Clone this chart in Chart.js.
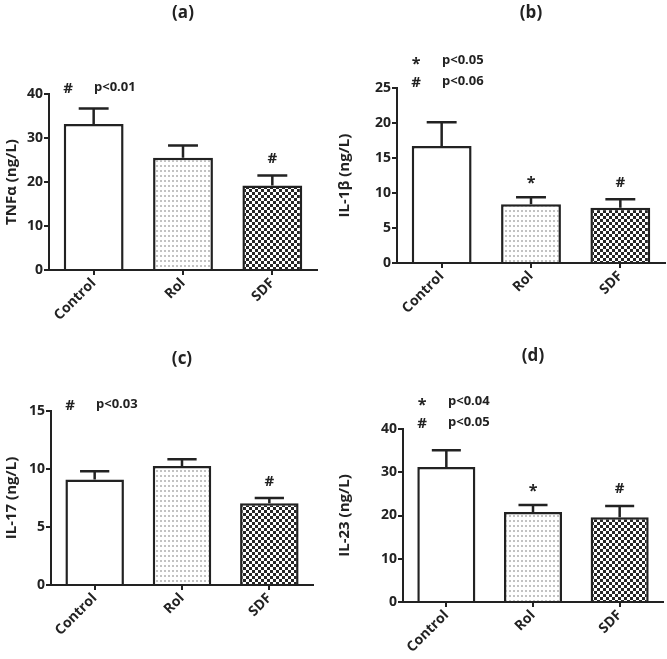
<!DOCTYPE html>
<html lang="en">
<head>
<meta charset="UTF-8">
<title>Cytokine levels</title>
<script src="https://cdn.jsdelivr.net/npm/chart.js"></script>
<style>
  body { margin: 0; background: #fff; }
  #wrap { position: relative; width: 667px; height: 659px; }
  .panel { position: absolute; }
</style>
</head>
<body>
<div id="wrap">
  <div class="panel" style="left:0;top:0;width:333px;height:330px"><canvas id="cA"></canvas></div>
  <div class="panel" style="left:333px;top:0;width:334px;height:330px"><canvas id="cB"></canvas></div>
  <div class="panel" style="left:0;top:330px;width:333px;height:329px"><canvas id="cC"></canvas></div>
  <div class="panel" style="left:333px;top:330px;width:334px;height:329px"><canvas id="cD"></canvas></div>
</div>
<script>
// groups and values (mean, SEM)
const groups = ["Control", "Rol", "SDF"];

const tnfMean = [33.2, 25.5, 19.2];
const tnfSem = [3.5, 2.8, 2.3];
const tnfTicks = [0, 10, 20, 30, 40];
const tnfMarks = ["", "", "#"];
const tnfNotes = [["#", "p<0.01"]];

const il1bMean = [16.7, 8.4, 7.9];
const il1bSem = [3.4, 1.0, 1.2];
const il1bTicks = [0, 5, 10, 15, 20, 25];
const il1bMarks = ["", "*", "#"];
const il1bNotes = [["*", "p<0.05"], ["#", "p<0.06"]];

const il17Mean = [9.1, 10.25, 7.05];
const il17Sem = [0.7, 0.6, 0.45];
const il17Ticks = [0, 5, 10, 15];
const il17Marks = ["", "", "#"];
const il17Notes = [["#", "p<0.03"]];

const il23Mean = [31.2, 20.8, 19.6];
const il23Sem = [3.9, 1.6, 2.6];
const il23Ticks = [0, 10, 20, 30, 40];
const il23Marks = ["", "*", "#"];
const il23Notes = [["*", "p<0.04"], ["#", "p<0.05"]];

const ink = "#222";
const fam = "'Open Sans', 'DejaVu Sans', sans-serif";

function makePattern(w, h, draw) {
    const c = document.createElement("canvas");
    c.width = w; c.height = h;
    const g = c.getContext("2d");
    g.fillStyle = "#fff";
    g.fillRect(0, 0, w, h);
    draw(g);
    return g.createPattern(c, "repeat");
}

const dots = makePattern(4, 5, g => {
    g.fillStyle = "#c2c2c2";
    g.fillRect(0, 0, 2, 2);
});
const checks = makePattern(6, 6, g => {
    g.fillStyle = "#262626";
    g.fillRect(0, 0, 3, 3);
    g.fillRect(3, 3, 3, 3);
});

function drawSym(ctx, s, x, cy) {
    // centre the glyph itself on cy
    ctx.textAlign = "center";
    ctx.textBaseline = "alphabetic";
    if (s === "*") {
        ctx.font = "bold 16px " + fam;
        ctx.fillText(s, x, cy + 9);
    } else {
        ctx.font = "bold 15px " + fam;
        ctx.fillText(s, x, cy + 5.5);
    }
}

function extras(p) {
    return {
        id: "extras",
        afterDatasetsDraw(chart) {
            const ctx = chart.ctx;
            const ys = chart.scales.y;
            const area = chart.chartArea;
            const bars = chart.getDatasetMeta(0).data;
            ctx.save();
            ctx.strokeStyle = ink;
            ctx.fillStyle = ink;
            ctx.lineWidth = 2.5;
            bars.forEach((bar, i) => {
                const top = ys.getPixelForValue(p.mean[i] + p.sem[i]);
                const half = bar.width / 4;
                ctx.beginPath();
                ctx.moveTo(bar.x, bar.y);
                ctx.lineTo(bar.x, top);
                ctx.moveTo(bar.x - half, top);
                ctx.lineTo(bar.x + half, top);
                ctx.stroke();
                if (p.marks[i]) drawSym(ctx, p.marks[i], bar.x, top - 18);
            });

            // panel letter
            ctx.font = "bold 17px " + fam;
            ctx.textAlign = "center";
            ctx.textBaseline = "middle";
            ctx.fillText(p.letter, (area.left + area.right) / 2, p.letterY);

            // significance key
            const n = p.notes.length;
            p.notes.forEach((nt, k) => {
                const cy = area.top - 7 - (n - 1 - k) * 21;
                drawSym(ctx, nt[0], area.left + 19, cy);
                ctx.font = "bold 13px " + fam;
                ctx.textAlign = "left";
                ctx.textBaseline = "middle";
                ctx.fillText(nt[1], area.left + 45, cy);
            });
            ctx.restore();
        }
    };
}

function panel(id, p) {
    new Chart(document.getElementById(id), {
        type: "bar",
        data: {
            labels: groups,
            datasets: [{
                data: p.mean,
                backgroundColor: ["#fff", dots, checks],
                borderColor: ink,
                borderWidth: 2.5,
                barPercentage: 0.67,
                categoryPercentage: 1
            }]
        },
        options: {
            responsive: true,
            maintainAspectRatio: false,
            animation: false,
            events: [],
            layout: { padding: { top: p.top, right: p.right, left: 0, bottom: 0 } },
            plugins: { legend: { display: false }, tooltip: { enabled: false } },
            scales: {
                x: {
                    afterFit: s => { s.height = p.xh; },
                    grid: { offset: false, drawOnChartArea: false, color: ink, lineWidth: 2, tickLength: 5 },
                    border: { color: ink, width: 2 },
                    ticks: {
                        color: ink, font: { family: fam, size: 14, weight: "bold" },
                        minRotation: 45, maxRotation: 45, padding: 0
                    }
                },
                y: {
                    min: p.ticks[0],
                    max: p.ticks[p.ticks.length - 1],
                    afterFit: s => { s.width = p.yw; },
                    afterBuildTicks: s => { s.ticks = p.ticks.map(v => ({ value: v })); },
                    grid: { drawOnChartArea: false, color: ink, lineWidth: 2, tickLength: 5 },
                    border: { color: ink, width: 2 },
                    ticks: { color: ink, font: { family: fam, size: 14, weight: "bold" }, padding: 1 },
                    title: {
                        display: true, text: p.title, color: ink,
                        font: { family: fam, size: 15, weight: "bold" },
                        padding: { top: 3, bottom: 0 }
                    }
                }
            }
        },
        plugins: [extras(p)]
    });
}

panel("cA", { mean: tnfMean, sem: tnfSem, ticks: tnfTicks, marks: tnfMarks, notes: tnfNotes,
    title: "TNFα (ng/L)", letter: "(a)", letterY: 13, top: 94, right: 16, yw: 49, xh: 60 });
panel("cB", { mean: il1bMean, sem: il1bSem, ticks: il1bTicks, marks: il1bMarks, notes: il1bNotes,
    title: "IL-1β (ng/L)", letter: "(b)", letterY: 13, top: 88, right: 2, yw: 64, xh: 67 });
panel("cC", { mean: il17Mean, sem: il17Sem, ticks: il17Ticks, marks: il17Marks, notes: il17Notes,
    title: "IL-17 (ng/L)", letter: "(c)", letterY: 29, top: 81, right: 20, yw: 51, xh: 74 });
panel("cD", { mean: il23Mean, sem: il23Sem, ticks: il23Ticks, marks: il23Marks, notes: il23Notes,
    title: "IL-23 (ng/L)", letter: "(d)", letterY: 26, top: 99, right: 4, yw: 70, xh: 57 });
</script>
</body>
</html>
